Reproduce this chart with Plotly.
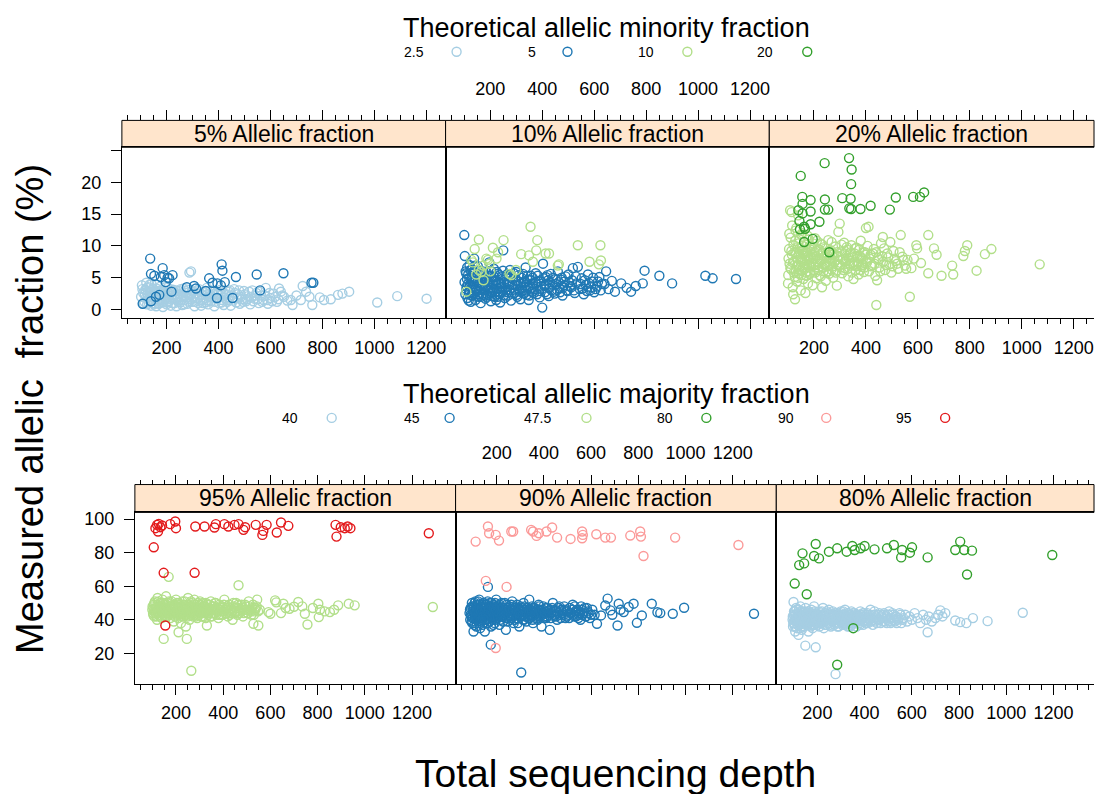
import plotly.graph_objects as go

W, H = 1095, 794
FONT = "Liberation Sans, Arial, Helvetica, sans-serif"

# ------------------------------------------------------------------ data
# (depth, measured allelic fraction %)
# ---- 5% Allelic fraction panel
p5_lvl25 = [(105,3.8),(110,2.6),(115,1.2),(118,3.1),(122,4.2),(125,0.8),(128,2.0),(130,3.5),(133,1.5),(136,2.8),
            (140,0.6),(142,4.0),(145,2.2),(148,1.0),(150,3.2),(153,1.8),(156,2.6),(160,0.5),(162,3.9),(165,1.4),
            (168,2.9),(170,0.9),(173,2.1),(176,3.6),(180,1.2),(183,2.5),(186,0.4),(190,3.0),(193,1.7),(196,2.3),
            (200,0.8),(204,3.4),(208,1.3),(212,2.7),(216,0.6),(220,1.9),(225,3.1),(230,1.0),(234,2.4),(238,0.5),
            (242,1.6),(247,2.9),(252,1.1),(256,2.0),(260,0.7),(265,3.3),(270,1.5),(275,2.6),(280,0.9),(284,1.9),
            (288,5.8),(294,6.0),(298,1.2),(302,2.8),(308,0.5),(312,1.8),(318,3.0),(322,1.0),(328,2.2),(333,0.6),
            (338,1.5),(344,2.7),(350,1.1),(355,3.4),(360,0.8),(366,2.0),(372,1.3),(378,2.9),(384,0.5),(390,1.7),
            (396,2.5),(402,1.0),(408,3.1),(414,1.5),(420,0.7),(427,2.3),(434,1.2),(440,2.8),(447,0.6),(454,1.9),
            (460,3.2),(468,1.1),(475,2.4),(482,0.9),(490,1.6),(498,2.9),(506,1.3),(514,2.1),(522,0.8),(530,3.0),
            (538,1.7),(546,2.6),(555,1.0),(564,2.2),(573,1.5),(582,3.4),(590,0.9),(600,1.8),(612,2.5),(625,1.2),
            (633,3.3),(640,2.8),(652,2.0),(665,1.4),(678,1.5),(685,0.7),(700,2.2),(717,1.5),(724,3.7),(737,2.8),
            (750,2.0),(761,0.7),(790,1.9),(806,1.5),(832,1.6),(860,2.3),(877,2.5),(903,2.8),(1011,1.1),(1088,2.1),
            (1201,1.7),
            (102,2.0),(107,3.2),(112,0.9),(116,2.4),(120,1.8),(124,3.4),(127,2.6),(131,1.1),(134,3.9),(138,2.2),
            (141,1.5),(144,3.1),(147,2.6),(151,0.8),(154,2.9),(158,1.6),(161,3.3),(164,2.0),(167,1.0),(171,2.7),
            (174,1.5),(178,3.0),(181,2.2),(185,1.1),(188,2.8),(191,1.4),(195,3.5),(198,2.0),(202,1.1),(206,2.6),
            (210,1.7),(214,3.2),(218,2.2),(222,1.0),(227,2.8),(232,1.6),(236,3.0),(240,2.0),(245,1.2),(250,2.4),
            (254,3.2),(258,1.5),(263,2.2),(268,0.8),(272,2.9),(277,1.9),(282,3.1),(286,1.2),(291,2.4),(296,1.6),
            (300,3.0),(305,2.0),(310,1.2),(315,2.5),(320,1.7),(325,3.2),(330,1.4),(336,2.3),(341,1.0),(347,2.9),
            (352,1.8),(358,2.4),(363,1.4),(369,3.0),(375,1.9),(381,2.4),(387,1.2),(393,2.8),(399,1.8),(405,2.2),
            (411,1.1),(417,2.7),(424,1.8),(430,2.4),(437,1.5),(444,3.0),(451,2.2),(457,1.4),(464,2.6),(471,1.8),
            (479,3.0),(486,2.0),(494,1.2),(502,2.4),(510,1.6),(518,2.8),(526,1.9),(534,1.3),(542,2.2),(550,1.6),
            (559,2.8),(568,1.2),(578,2.2),(588,1.5),(596,2.6),(606,1.3),(618,2.0),(630,1.6),(645,2.2)]
p5_lvl5 = [(137,8.0),(140,5.6),(153,5.3),(185,6.5),(191,5.4),(210,4.9),(223,5.4),(197,4.3),(204,5.0),(178,5.1),
           (108,0.9),(140,1.3),(159,2.0),(172,2.3),(219,2.8),(278,3.5),(306,3.7),(313,3.3),(351,2.9),(364,4.9),
           (377,4.2),(396,4.1),(409,3.8),(412,7.1),(415,6.1),(424,4.3),(394,1.8),(454,1.8),(467,5.1),(547,5.5),
           (560,3.0),(650,5.7),(758,4.2),(765,4.2)]

# ---- 10% Allelic fraction panel
p10_lvl5 = [(100,11.7),(102,8.4),(105,6.0),(108,3.2),(110,4.8),(112,1.8),(115,5.5),(118,2.6),(120,7.0),(122,3.9),
            (125,1.2),(128,4.5),(130,6.3),(133,2.2),(136,3.4),(138,8.0),(140,5.0),(143,1.5),(146,2.9),(149,4.2),
            (152,6.8),(155,2.0),(158,3.7),(160,5.4),(163,1.0),(166,4.0),(169,2.5),(172,6.0),(175,3.1),(178,4.7),
            (181,1.7),(184,3.5),(187,5.8),(190,2.3),(193,4.4),(196,7.4),(199,3.0),(202,1.3),(205,5.1),(208,2.7),
            (211,3.9),(214,6.4),(217,2.0),(220,4.6),(223,1.5),(226,3.3),(229,5.6),(232,2.4),(235,4.1),(238,1.1),
            (241,3.6),(244,5.2),(247,2.8),(250,9.3),(253,4.3),(256,1.8),(260,3.0),(264,5.5),(268,2.2),(272,4.0),
            (276,6.2),(280,1.4),(284,3.4),(288,4.8),(292,2.6),(296,3.8),(300,5.9),(304,2.0),(308,4.4),(312,3.1),
            (316,1.6),(320,5.0),(324,2.9),(328,4.2),(332,3.5),(336,6.6),(340,2.3),(344,4.7),(348,1.5),(352,3.7),
            (356,5.3),(360,2.8),(365,4.1),(370,3.2),(375,5.7),(380,2.4),(385,4.5),(390,1.9),(395,3.6),(400,0.3),
            (403,7.2),(406,4.9),(410,2.7),(415,3.9),(420,5.4),(425,2.1),(430,4.3),(436,3.0),(442,5.0),(448,2.5),
            (454,4.0),(460,6.0),(466,3.3),(472,4.7),(478,2.2),(484,3.8),(490,5.2),(497,2.9),(504,4.3),(511,3.5),
            (518,6.5),(525,2.6),(532,4.1),(537,6.7),(545,3.2),(552,4.9),(560,2.4),(568,3.9),(576,5.5),(584,3.0),
            (592,4.4),(600,2.7),(610,3.6),(620,5.1),(630,4.0),(646,6.0),(655,3.2),(668,4.5),(680,2.8),(704,4.1),
            (725,3.4),(742,2.8),(760,3.7),(787,4.1),(794,6.1),(851,5.3),(900,4.1),(1028,5.3),(1056,4.9),(1146,4.8),
            (101,4.3),(104,2.4),(107,5.7),(109,3.6),(111,6.6),(114,4.0),(117,1.4),(119,5.0),(121,3.0),(124,6.2),
            (127,2.2),(129,4.9),(132,3.5),(134,5.9),(137,2.6),(139,4.4),(141,6.9),(144,3.2),(147,5.3),(150,2.4),
            (153,4.6),(156,3.0),(159,6.1),(162,3.6),(165,2.0),(168,5.0),(171,3.9),(174,2.3),(177,5.6),(180,3.3),
            (183,4.8),(186,2.0),(189,3.8),(192,5.3),(195,2.6),(198,4.5),(201,3.4),(204,6.0),(207,2.1),(210,4.4),
            (213,3.0),(216,5.1),(219,2.7),(222,3.9),(225,5.9),(228,2.0),(231,4.3),(234,3.2),(237,5.4),(240,2.6),
            (243,4.0),(246,3.5),(249,6.1),(252,2.2),(255,4.7),(258,3.4),(262,5.2),(266,2.7),(270,4.3),(274,3.1),
            (278,5.0),(282,2.5),(286,3.9),(290,5.7),(294,3.0),(298,4.5),(302,2.3),(306,3.8),(310,5.4),(314,2.8),
            (318,4.1),(322,3.4),(326,5.6),(330,2.5),(334,4.4),(338,3.0),(342,5.2),(346,3.6),(350,2.2),(354,4.6),
            (358,3.3),(363,5.0),(368,2.6),(373,4.2),(378,3.6),(383,5.3),(388,2.9),(393,4.4),(398,3.2),(408,3.8),
            (413,5.1),(418,2.4),(423,4.6),(428,3.4),(433,5.6),(439,3.9),(445,2.8),(451,4.8),(457,3.1),(463,4.3),
            (469,2.7),(475,5.0),(481,3.5),(487,4.4),(494,3.0),(501,5.5),(508,3.7),(515,4.6),(522,3.0),(529,5.2),
            (548,4.0),(556,3.3),(564,4.6),(572,2.9),(580,4.1),(588,3.5),(596,5.0),(605,3.2),(615,4.4),(625,3.0),
            (640,4.0)]
p10_lvl10 = [(355,13.0),(156,11.0),(251,10.9),(381,10.9),(210,9.7),(319,8.7),(349,8.5),(377,9.3),(413,8.8),(426,8.8),
             (364,7.5),(537,10.1),(624,10.1),(582,7.5),(626,7.7),(618,7.1),(460,6.9),(464,7.1),(274,5.6),(281,5.4),
             (299,6.2),(133,7.4),(146,5.5),(172,6.9),(165,5.9),(191,7.8),(197,7.2),(174,4.6),(108,2.8),(127,7.8),
             (185,8.0),(224,8.0),(156,6.2),(140,9.5),(230,9.0),(200,6.0)]

# ---- 20% Allelic fraction panel
p20_lvl10 = [(100,4.1),(101,5.4),(104,9.5),(106,7.2),(108,15.6),(110,11.3),(112,6.3),(114,15.3),(115,8.6),(118,3.5),
             (120,2.4),(121,10.2),(124,7.6),(126,5.1),(127,1.6),(129,12.4),(131,8.9),(133,6.7),(135,4.4),(137,9.8),
             (139,14.8),(141,7.0),(143,5.6),(145,11.0),(147,8.2),(149,3.0),(151,6.1),(153,9.3),(155,12.0),(157,7.5),
             (159,4.8),(161,8.7),(163,10.6),(165,6.4),(167,2.6),(169,9.0),(171,5.3),(173,7.8),(175,11.6),(177,4.1),
             (179,8.4),(181,6.9),(183,10.0),(186,5.8),(189,7.3),(192,9.6),(195,3.8),(198,8.0),(201,6.2),(204,11.2),
             (207,7.0),(210,4.9),(213,9.2),(216,6.6),(219,8.5),(222,5.4),(225,10.4),(228,7.7),(231,3.5),(234,8.9),
             (237,6.0),(240,9.8),(243,7.2),(246,4.5),(249,8.1),(252,6.8),(255,10.9),(258,5.6),(261,7.9),(264,9.3),
             (267,6.3),(270,8.6),(274,5.0),(278,7.4),(282,9.9),(286,6.1),(288,3.75),(290,8.3),(294,12.2),(299,13.5),
             (300,7.0),(304,9.1),(308,5.7),(312,8.0),(316,10.5),(320,6.5),(324,7.6),(328,9.4),(332,5.2),(336,8.2),
             (340,6.9),(344,10.1),(348,7.3),(352,4.8),(356,8.8),(360,6.2),(364,9.7),(368,7.1),(372,5.5),(376,8.4),
             (380,10.8),(384,6.7),(388,7.9),(392,5.9),(396,9.0),(400,12.8),(404,7.4),(410,13.0),(412,6.0),(418,8.6),
             (424,7.0),(430,9.5),(436,5.3),(440,0.7),(443,4.6),(446,8.1),(452,6.6),(458,10.4),(465,11.4),(466,7.5),
             (474,6.2),(482,8.8),(490,7.1),(498,5.8),(506,9.2),(515,7.6),(524,6.4),(534,11.7),(540,8.3),(550,6.9),
             (560,7.8),(569,2.0),(575,6.5),(585,8.0),(594,10.1),(597,9.6),(612,7.3),(640,11.7),(640,5.7),(662,9.6),
             (672,8.6),(691,5.3),(732,6.9),(736,5.5),(775,8.4),(781,9.2),(790,10.1),(826,6.1),(858,8.7),(883,9.5),
             (1069,7.1),
             (102,8.0),(105,11.9),(109,6.5),(113,9.2),(116,13.2),(119,7.4),(122,5.8),(125,9.0),(128,10.8),(130,6.0),
             (132,12.8),(134,8.2),(136,7.0),(138,5.0),(140,10.4),(142,8.8),(144,6.2),(146,9.6),(148,7.6),(150,11.8),
             (152,5.4),(154,8.0),(156,10.0),(158,6.6),(160,9.2),(162,7.0),(164,12.6),(166,8.4),(168,5.8),(170,10.2),
             (172,7.2),(174,9.0),(176,6.0),(178,8.2),(180,11.0),(182,7.8),(184,5.6),(187,9.4),(190,6.8),(193,8.6),
             (196,10.4),(199,7.0),(202,9.0),(205,5.8),(208,8.4),(211,10.8),(214,7.4),(217,6.2),(220,9.4),(223,7.8),
             (226,5.2),(229,8.8),(232,10.2),(235,6.6),(238,8.0),(241,7.0),(244,9.6),(247,5.8),(250,8.6),(253,7.4),
             (256,6.0),(259,9.2),(262,7.2),(265,8.0),(268,10.6),(272,6.8),(276,8.8),(280,7.6),(284,5.8),(288,9.0),
             (292,7.0),(296,8.4),(302,6.6),(306,10.2),(310,7.8),(314,6.2),(318,8.8),(322,7.2),(326,9.8),(330,6.4),
             (334,8.0),(338,7.2),(342,9.0),(346,5.8),(350,8.2),(354,7.0),(358,9.6),(362,6.8),(366,8.4),(370,7.4),
             (374,9.4),(378,6.2),(382,8.2),(386,7.0),(390,9.0),(394,6.6),(398,8.6),(402,7.6),(406,10.0),(414,8.0),
             (420,6.8),(427,8.8),(433,7.2),(439,9.0),(449,7.8),(455,6.0),(462,8.4),(470,9.6),(478,7.0),(486,8.2),
             (494,10.6),(502,6.8),(510,8.0),(520,7.2),(530,9.0),(545,7.8),(555,6.4)]
p20_lvl20 = [(335,23.8),(241,23.0),(345,22.0),(149,21.0),(343,19.7),(155,17.7),(187,17.2),(242,17.3),(309,17.5),
             (341,17.4),(336,15.9),(343,15.8),(379,15.8),(418,16.3),(515,17.6),(582,17.7),(608,17.7),(624,18.4),
             (492,15.7),(255,15.7),(242,15.7),(187,15.4),(156,16.6),(140,15.6),(144,13.9),(221,13.8),(162,13.0),
             (187,13.4),(146,12.6),(166,12.7),(162,10.6),(195,11.1),(259,9.0),(156,15.1)]

# ---- 95% Allelic fraction panel
p95_lvl475 = [(100,46),(103,44),(106,49),(108,42),(111,51),(114,45),(117,47),(120,40),(122,53),(125,44),
              (128,48),(131,43),(134,50),(137,46),(140,41),(143,52),(146,47),(148,28.6),(149,44),(152,49),
              (155,42),(158,54),(161,46),(164,45),(167,50),(169,65.6),(170,43),(173,48),(176,41),(179,46),
              (182,51),(185,44),(188,47),(191,39),(194,49),(197,45),(200,52),(203,43),(206,47),(209,41),
              (211,32.6),(212,50),(215,45),(218,48),(221,38),(224,44),(227,51),(230,46),(233,42),(236,49),
              (239,45),(242,36),(245,47),(246,28.6),(248,43),(251,53),(254,46),(257,40),(260,48),(263,44),
              (265,9.6),(266,50),(269,45),(272,42),(275,47),(278,52),(281,43),(284,46),(287,49),(290,41),
              (293,45),(296,48),(299,44),(302,51),(305,46),(308,42),(311,47),(314,50),(317,44),(320,45),
              (323,48),(326,41),(329,46),(331,36.6),(333,49),(336,43),(340,47),(344,45),(348,51),(352,42),
              (356,46),(360,48),(364,44),(368,50),(372,45),(376,47),(380,41),(384,49),(388,46),(392,43),
              (396,48),(400,45),(405,52),(410,44),(415,47),(420,42),(425,49),(430,46),(435,44),(440,40),
              (445,48),(450,45),(455,50),(460,43),(465,60.6),(466,47),(472,45),(478,49),(484,42),(490,46),
              (496,48),(502,44),(508,51),(514,46),(520,43),(526,49),(528,37.6),(532,45),(538,47),(544,52),
              (549,36.6),(555,46),(592,44.6),(600,43.6),(620,51.6),(625,50.4),(645,44.0),(655,49.6),(665,47.0),
              (681,46.6),(700,47.8),(718,50.6),(735,48.0),(746,43.6),(757,37.2),(780,47.0),(803,49.6),(805,41.6),
              (810,46.0),(830,45.0),(852,44.6),(870,46.0),(887,48.6),(932,49.6),(957,48.6),(1288,47.6),
              (101,48),(104,43),(107,46),(109,50),(112,44),(115,47),(118,42),(121,49),(123,45),(126,51),
              (129,46),(132,42),(135,48),(138,44),(141,47),(144,45),(147,50),(150,43),(153,47),(156,45),
              (159,49),(162,42),(165,47),(168,44),(171,51),(174,45),(177,48),(180,43),(183,47),(186,49),
              (189,44),(192,46),(195,42),(198,48),(201,45),(204,50),(207,44),(210,47),(213,43),(216,49),
              (219,45),(222,47),(225,42),(228,48),(231,44),(234,46),(237,51),(240,43),(243,48),(247,45),
              (250,42),(253,49),(256,44),(259,47),(262,46),(264,51),(267,43),(270,48),(273,45),(276,44),
              (279,49),(282,46),(285,42),(288,47),(291,45),(294,50),(297,43),(300,47),(303,45),(306,49),
              (309,44),(312,46),(315,42),(318,48),(321,46),(324,44),(327,50),(330,45),(334,47),(338,44),
              (342,49),(346,42),(350,46),(354,48),(358,44),(362,46),(366,50),(370,43),(374,47),(378,45),
              (382,43),(386,48),(390,45),(394,47),(398,43),(403,49),(408,46),(413,44),(418,48),(423,45),
              (428,43),(433,47),(438,45),(443,50),(448,44),(453,47),(458,45),(463,49),(469,44),(475,46),
              (481,47),(487,44),(493,49),(499,46),(505,44),(511,48),(517,45),(523,47),(530,43),(536,46),
              (542,48),(548,45)]
p95_lvl95 = [(106,83.2),(113,94.6),(120,96.6),(127,97.2),(124,92.6),(141,96.2),(134,95.2),(176,97.0),(197,98.6),
             (200,94.6),(148,68.0),(279,68.0),(155,36.6),(282,95.6),(321,95.6),(363,95.0),(369,97.0),(405,97.0),
             (422,95.6),(448,96.6),(465,97.0),(486,93.6),(493,95.2),(538,96.6),(570,93.0),(566,90.6),(584,96.6),
             (627,92.0),(645,98.0),(676,96.0),(876,96.6),(880,89.6),(898,95.2),(915,94.6),(927,95.6),(939,94.6),
             (1271,91.6)]

# ---- 90% Allelic fraction panel
p90_lvl45 = [(85,44),(88,40),(90,47),(93,42),(95,50),(97,38),(100,45),(102,33),(104,48),(106,43),(108,41),(110,51),
             (112,46),(114,36),(116,44),(118,49),(120,42),(122,39),(124,47),(126,52),(128,44),(130,35),(132,46),
             (134,41),(136,48),(138,43),(140,37),(142,50),(144,45),(146,42),(148,47),(150,33),(152,44),(154,49),
             (156,40),(158,46),(160,43),(162,51),(163,59.6),(164,38),(166,45),(168,48),(170,41),(172,44),(174,47),
             (175,25.2),(176,36),(178,50),(180,43),(182,46),(184,40),(186,45),(188,49),(190,42),(192,38),(194,47),
             (196,44),(198,52),(200,41),(203,46),(206,43),(209,48),(212,37),(215,45),(218,42),(221,50),(224,44),
             (227,39),(230,47),(233,43),(236,46),(239,34),(242,49),(245,41),(248,45),(251,43),(254,48),(257,40),
             (260,46),(263,44),(266,51),(269,42),(272,38),(275,47),(278,44),(281,45),(284,41),(287,49),(290,43),
             (293,46),(296,36),(299,44),(302,48),(304,8.6),(305,42),(308,45),(311,40),(314,50),(317,43),(320,46),
             (323,44),(326,39),(329,47),(332,42),(335,45),(338,52),(341,41),(344,46),(347,43),(350,48),(354,38),
             (358,44),(362,47),(366,42),(370,45),(374,40),(378,49),(382,43),(386,46),(390,36),(394,44),(398,48),
             (402,42),(406,45),(410,41),(415,47),(420,43),(425,34.0),(426,46),(432,44),(438,50),(444,42),(450,45),
             (456,40),(462,47),(468,43),(474,46),(480,44),(486,48),(492,41),(498,45),(504,43),(510,47),(516,44),
             (522,49),(528,42),(534,45),(540,46),(546,41),(552,44),(558,48),(564,43),(570,45),(576,42),(582,47),
             (590,44),(600,43),(625,37.6),(642,42.6),(660,48.5),(670,52.6),(682,45.6),(690,43.0),(712,36.6),
             (717,49.6),(725,46.0),(738,44.6),(759,47.6),(780,49.6),(794,38.2),(815,42.6),(857,49.6),(881,44.5),
             (893,44.0),(946,43.6),(994,47.2),(1290,43.6),
             (87,46),(91,43),(94,39),(96,48),(99,41),(101,47),(103,44),(105,37),(107,50),(109,45),(111,42),(113,48),
             (115,40),(117,46),(119,44),(121,51),(123,43),(125,38),(127,46),(129,49),(131,42),(133,45),(135,39),
             (137,47),(139,44),(141,41),(143,48),(145,43),(147,50),(149,45),(151,40),(153,47),(155,43),(157,38),
             (159,49),(161,44),(165,42),(167,46),(169,39),(171,50),(173,43),(177,45),(179,41),(181,48),(183,44),
             (185,37),(187,47),(189,43),(191,45),(193,50),(195,40),(197,46),(199,43),(202,48),(205,41),(208,45),
             (211,44),(214,49),(217,40),(220,46),(223,43),(226,47),(229,42),(232,45),(235,50),(238,41),(241,44),
             (244,47),(247,39),(250,45),(253,42),(256,46),(259,44),(262,49),(265,41),(268,45),(271,43),(274,48),
             (277,40),(280,46),(283,43),(286,45),(289,38),(292,47),(295,44),(298,42),(301,45),(307,47),(310,43),
             (313,46),(316,40),(319,48),(322,42),(325,45),(328,44),(331,47),(334,41),(337,43),(340,46),(346,42),
             (349,45),(352,40),(356,47),(360,43),(364,45),(368,41),(372,46),(376,44),(380,48),(384,42),(388,45),
             (392,43),(396,46),(400,41),(404,44),(408,47),(413,42),(418,45),(423,44),(429,41),(435,47),(441,43),
             (447,46),(453,42),(459,44),(465,48),(471,41),(477,45),(483,43),(489,46),(495,42),(501,45),(507,41),
             (513,44),(519,46),(525,43),(531,48),(537,42),(543,45),(549,43),(555,40),(561,46),(567,44),(573,47),
             (579,42),(586,45),(595,41),(605,46),(615,43)]
p90_lvl90 = [(111,86.6),(163,95.6),(168,91.6),(196,90.6),(210,87.2),(262,92.6),(270,92.6),(346,93.6),(354,92.6),
             (369,90.0),(379,91.6),(411,92.6),(435,95.0),(456,89.0),(513,88.2),(562,92.6),(565,90.6),(562,88.6),
             (622,91.0),(660,89.0),(684,89.0),(766,90.2),(808,92.6),(811,89.6),(822,78.0),(956,89.0),(1224,84.6),
             (154,63.2),(242,59.6),(196,23.2)]

# ---- 80% Allelic fraction panel
p80_lvl40 = [(95,40),(97,36),(99,50.6),(100,43),(102,38),(104,45),(106,33),(108,41),(110,47),(112,39),(114,35),
             (116,44),(118,42),(120,31),(122,46),(124,40),(126,37),(128,48),(130,43),(132,39),(134,34),(136,45),
             (138,41),(140,38),(142,44),(144,36),(146,42),(149,24.6),(150,47),(152,40),(154,37),(156,43),(158,39),
             (160,45),(162,33),(164,41),(166,38),(168,44),(170,40),(172,36),(174,46),(176,42),(178,39),(180,35),
             (182,43),(184,40),(186,48),(188,37),(190,41),(193,23.6),(194,44),(197,38),(200,42),(203,39),(206,45),
             (209,36),(212,41),(215,43),(218,38),(221,40),(224,47),(227,35),(230,42),(233,39),(236,44),(239,37),
             (242,41),(245,40),(248,46),(251,38),(254,43),(257,36),(260,42),(263,39),(266,45),(269,40),(272,37),
             (275,43),(277,7.6),(278,41),(281,38),(284,44),(287,40),(290,36),(293,42),(296,39),(299,45),(302,41),
             (305,37),(308,43),(311,40),(314,38),(317,46),(320,42),(323,39),(326,44),(329,36),(332,41),(335,43),
             (338,38),(341,40),(344,45),(347,37),(350,42),(354,39),(358,44),(362,40),(366,36),(370,43),(374,41),
             (378,38),(382,45),(386,40),(390,42),(394,37),(398,44),(402,39),(406,41),(410,43),(415,38),(420,40),
             (425,46),(430,41),(435,37),(440,43),(445,39),(450,42),(456,40),(462,44),(468,38),(474,41),(480,43),
             (486,39),(492,42),(498,40),(504,45),(510,38),(516,41),(522,43),(528,39),(534,42),(540,40),(548,44),
             (556,38),(564,41),(572,43),(580,39),(590,42),(600,40),(612,44),(624,41),(636,38),(648,43),(660,40),
             (667,32.6),(672,42),(685,39),(700,41),(712,43),(721,45.6),(730,42),(742,44),(784,39.6),(805,38.6),
             (831,38.0),(859,41.0),(921,39.2),(1070,44.2),
             (96,42),(98,38),(101,45),(103,40),(105,36),(107,43),(109,39),(111,46),(113,41),(115,37),(117,44),
             (119,40),(121,38),(123,43),(125,41),(127,35),(129,45),(131,40),(133,42),(135,38),(137,44),(139,40),
             (141,36),(143,42),(145,39),(147,45),(151,41),(153,38),(155,44),(157,40),(159,37),(161,43),(163,40),
             (165,45),(167,39),(169,42),(171,37),(173,41),(175,44),(177,39),(179,42),(181,40),(183,37),(185,43),
             (187,40),(189,45),(191,38),(195,41),(198,43),(201,37),(204,42),(207,40),(210,44),(213,38),(216,41),
             (219,45),(222,39),(225,42),(228,40),(231,37),(234,43),(237,40),(240,45),(243,38),(246,42),(249,40),
             (252,44),(255,37),(258,41),(261,43),(264,39),(267,42),(270,40),(273,44),(276,38),(279,42),(282,40),
             (285,36),(288,43),(291,41),(294,38),(297,44),(300,40),(303,42),(306,39),(309,45),(312,41),(315,37),
             (318,43),(321,40),(324,42),(327,38),(330,44),(333,40),(336,41),(339,36),(342,43),(345,40),(348,44),
             (352,38),(356,42),(360,40),(364,43),(368,39),(372,42),(376,40),(380,37),(384,43),(388,41),(392,44),
             (396,39),(400,42),(404,40),(408,38),(412,44),(417,41),(422,43),(427,39),(432,42),(437,40),(442,45),
             (447,41),(452,38),(458,43),(464,40),(470,42),(476,39),(482,44),(488,41),(494,38),(500,43),(506,41),
             (512,39),(518,44),(524,40),(530,42),(536,38),(544,41),(552,43),(560,40)]
p80_lvl80 = [(193,85.2),(137,79.6),(123,72.6),(144,73.6),(104,61.6),(155,55.2),(186,78.0),(207,76.6),(249,80.6),
             (284,82.6),(324,80.6),(348,84.0),(358,81.6),(383,82.6),(400,84.0),(442,82.0),(495,82.6),(524,84.6),
             (559,81.6),(555,77.2),(592,80.0),(601,83.2),(667,77.2),(784,81.6),(805,86.6),(822,81.6),(855,81.2),
             (834,67.0),(1195,78.6),(352,35.0),(284,13.2)]

# categories / labels
top_titles = ["5% Allelic fraction", "10% Allelic fraction", "20% Allelic fraction"]
bot_titles = ["95% Allelic fraction", "90% Allelic fraction", "80% Allelic fraction"]
minority_levels = ["2.5", "5", "10", "20"]
majority_levels = ["40", "45", "47.5", "80", "90", "95"]
x_ticks = [200, 400, 600, 800, 1000, 1200]
top_y_ticks = [0, 5, 10, 15, 20, 25]
top_y_labels = ["0", "5", "10", "15", "20", ""]
bot_y_ticks = [20, 40, 60, 80, 100]

# colours (RColorBrewer Paired)
COL = {"2.5": "#A6CEE3", "5": "#1F78B4", "10": "#B2DF8A", "20": "#33A02C",
       "40": "#A6CEE3", "45": "#1F78B4", "47.5": "#B2DF8A", "80": "#33A02C",
       "90": "#FB9A99", "95": "#E31A1C"}

panels = [
    [("2.5", p5_lvl25), ("5", p5_lvl5)],
    [("5", p10_lvl5), ("10", p10_lvl10)],
    [("10", p20_lvl10), ("20", p20_lvl20)],
    [("47.5", p95_lvl475), ("95", p95_lvl95)],
    [("45", p90_lvl45), ("90", p90_lvl90)],
    [("40", p80_lvl40), ("80", p80_lvl80)],
]

# ------------------------------------------------------------------ layout geometry (pixels)
TOP_X = [(122, 446), (446, 770), (770, 1095)]
BOT_X = [(135, 456), (456, 777), (777, 1095)]
TOP_PLOT = (145, 317); TOP_STRIP = (118, 145)
BOT_PLOT = (512, 684); BOT_STRIP = (484, 512)
TOP_X0, TOP_SCALE = 28, 0.26
BOT_X0, BOT_SCALE = 26, 0.2363
TOP_YR = [-1.4, 25.5]
BOT_YR = [2, 104]


def fx(p):
    return p / W


def fy(p):
    return 1 - p / H


fig = go.Figure()
layout = dict(width=W, height=H, margin=dict(l=0, r=0, t=0, b=0),
              paper_bgcolor="white", plot_bgcolor="rgba(0,0,0,0)", showlegend=False,
              font=dict(family=FONT, color="black"))
shapes, annos = [], []

TICKFONT = dict(family=FONT, size=18, color="black")
MARK = dict(symbol="circle-open", size=9, line=dict(width=1.4))

for i in range(6):
    row, col = divmod(i, 3)
    if row == 0:
        (x0, x1), (py0, py1), (s0, s1) = TOP_X[col], TOP_PLOT, TOP_STRIP
        xr = [TOP_X0, TOP_X0 + (x1 - x0) / TOP_SCALE]
        yr, ytv, ytt = TOP_YR, top_y_ticks, top_y_labels
        title = top_titles[col]
    else:
        (x0, x1), (py0, py1), (s0, s1) = BOT_X[col], BOT_PLOT, BOT_STRIP
        xr = [BOT_X0, BOT_X0 + (x1 - x0) / BOT_SCALE]
        yr, ytv, ytt = BOT_YR, bot_y_ticks, [str(v) for v in bot_y_ticks]
        title = bot_titles[col]
    n = i + 1
    common_x = dict(range=xr, tickmode="array", tickvals=x_ticks, ticktext=[str(v) for v in x_ticks],
                    ticks="outside", ticklen=10, tickwidth=1, tickcolor="black",
                    minor=dict(tickmode="linear", tick0=0, dtick=50, ticks="outside", ticklen=5,
                               tickwidth=1, tickcolor="black", showgrid=False),
                    showgrid=False, zeroline=False, tickfont=TICKFONT)
    layout[f"xaxis{n}"] = dict(common_x, domain=[fx(x0), fx(x1)], anchor=f"y{n}",
                               showticklabels=(col != 1), showline=True, linecolor="black",
                               linewidth=1, mirror=True, ticklabelstandoff=3)
    layout[f"yaxis{n}"] = dict(domain=[fy(py1), fy(py0)], range=yr, anchor=f"x{n}",
                               showgrid=False, zeroline=False, showline=True, linecolor="black",
                               linewidth=1, mirror=(col != 2),
                               tickmode="array", tickvals=ytv, ticktext=ytt,
                               ticks="outside" if col == 0 else "", ticklen=10, tickwidth=1,
                               tickcolor="black", showticklabels=(col == 0), tickfont=TICKFONT,
                               ticklabelstandoff=6)
    # top ticks above the strip (overlay axis)
    m = n + 6
    layout[f"xaxis{m}"] = dict(common_x, domain=[fx(x0), fx(x1)], overlaying=f"x{n}", side="top",
                               anchor="free", position=fy(s0), showline=False,
                               showticklabels=(col == 1), ticklabelstandoff=8)
    fig.add_trace(go.Scatter(x=[None], y=[None], mode="markers", xaxis=f"x{m}", yaxis=f"y{n}",
                             hoverinfo="skip", showlegend=False))
    # strip
    shapes.append(dict(type="rect", xref="paper", yref="paper", x0=fx(x0), x1=fx(x1),
                       y0=fy(s1), y1=fy(s0), fillcolor="#FFE5CC",
                       line=dict(color="black", width=1), layer="below"))
    annos.append(dict(text=title, xref="paper", yref="paper", x=fx((x0 + x1) / 2),
                      y=fy((s0 + s1) / 2), showarrow=False, xanchor="center", yanchor="middle",
                      font=dict(family=FONT, size=23, color="black")))
    # points
    for lvl, pts in panels[i]:
        fig.add_trace(go.Scatter(x=[p[0] for p in pts], y=[p[1] for p in pts], mode="markers",
                                 xaxis=f"x{n}", yaxis=f"y{n}", hoverinfo="skip",
                                 marker=dict(MARK, color=COL[lvl])))

# ------------------------------------------------------------------ legends (keys)
LEG_MIN_Y, LEG_MIN_TITLE_Y = 49, 25
LEG_MIN_LABEL_X = [414, 532, 647, 766]
LEG_MIN_KEY_X = [457, 568, 688, 808]
LEG_MAJ_Y, LEG_MAJ_TITLE_Y = 417, 393
LEG_MAJ_LABEL_X = [290, 412, 538, 666, 787, 905]
LEG_MAJ_KEY_X = [332, 450, 587, 707, 827, 946]

layout["xaxis13"] = dict(domain=[0, 1], range=[0, W], visible=False, anchor="y13", fixedrange=True)
layout["yaxis13"] = dict(domain=[0, 1], range=[H, 0], visible=False, anchor="x13", fixedrange=True)
for levels, lx, kx, ly in [(minority_levels, LEG_MIN_LABEL_X, LEG_MIN_KEY_X, LEG_MIN_Y),
                           (majority_levels, LEG_MAJ_LABEL_X, LEG_MAJ_KEY_X, LEG_MAJ_Y)]:
    fig.add_trace(go.Scatter(x=kx, y=[ly] * len(kx), mode="markers", xaxis="x13", yaxis="y13",
                             hoverinfo="skip",
                             marker=dict(MARK, color=[COL[l] for l in levels])))
    for lab, x in zip(levels, lx):
        annos.append(dict(text=lab, xref="paper", yref="paper", x=fx(x), y=fy(ly), showarrow=False,
                          xanchor="center", yanchor="middle",
                          font=dict(family=FONT, size=14, color="black")))

annos.append(dict(text="Theoretical allelic minority fraction", xref="paper", yref="paper",
                  x=fx(607), y=fy(LEG_MIN_TITLE_Y), showarrow=False, xanchor="center",
                  yanchor="middle", font=dict(family=FONT, size=27, color="black")))
annos.append(dict(text="Theoretical allelic majority fraction", xref="paper", yref="paper",
                  x=fx(607), y=fy(LEG_MAJ_TITLE_Y), showarrow=False, xanchor="center",
                  yanchor="middle", font=dict(family=FONT, size=27, color="black")))

# axis titles
annos.append(dict(text="Total sequencing depth", xref="paper", yref="paper", x=fx(616), y=fy(774),
                  showarrow=False, xanchor="center", yanchor="middle",
                  font=dict(family=FONT, size=39, color="black")))
annos.append(dict(text="Measured allelic\u00a0\u00a0fraction (%)", xref="paper", yref="paper",
                  x=fx(30), y=fy(408), showarrow=False, xanchor="center", yanchor="middle",
                  textangle=-90, font=dict(family=FONT, size=38, color="black")))

layout["shapes"] = shapes
layout["annotations"] = annos
fig.update_layout(**layout)
fig.write_html("out.html", config={"displayModeBar": False},
               post_script="document.body.style.margin='0';document.body.style.padding='0';")
